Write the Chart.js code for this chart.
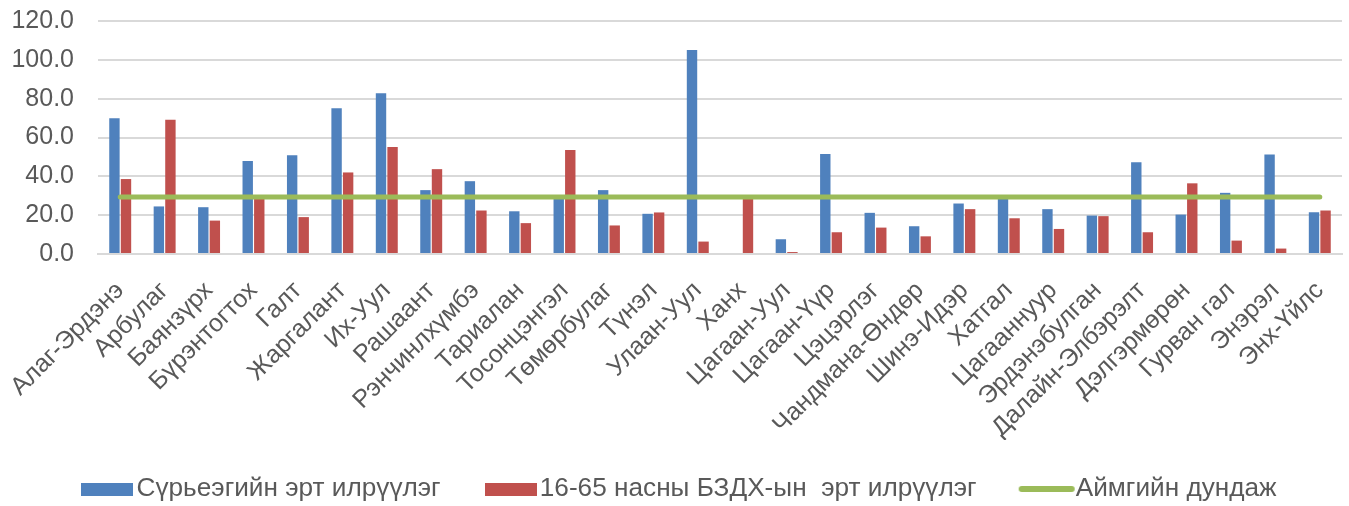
<!DOCTYPE html>
<html>
<head>
<meta charset="utf-8">
<script src="https://cdn.jsdelivr.net/npm/chart.js@4/dist/chart.umd.min.js"></script>
<style>
  html, body { margin: 0; padding: 0; background: #fff; }
  #wrap { width: 1349px; height: 506px; }
</style>
</head>
<body>
<div id="wrap"><canvas id="tbChart"></canvas></div>
<script>
// Data for the chart
const soums = ['Алаг-Эрдэнэ', 'Арбулаг', 'Баянзүрх', 'Бүрэнтогтох', 'Галт', 'Жаргалант', 'Их-Уул', 'Рашаант',
  'Рэнчинлхүмбэ', 'Тариалан', 'Тосонцэнгэл', 'Төмөрбулаг', 'Түнэл', 'Улаан-Уул', 'Ханх', 'Цагаан-Уул',
  'Цагаан-Үүр', 'Цэцэрлэг', 'Чандмана-Өндөр', 'Шинэ-Идэр', 'Хатгал', 'Цагааннуур', 'Эрдэнэбулган',
  'Далайн-Элбэрэлт', 'Дэлгэрмөрөн', 'Гурван гал', 'Энэрэл', 'Энх-Үйлс'];

const tbData = [69.9, 24.5, 24.1, 47.9, 50.8, 75.1, 82.8, 32.9, 37.5, 22.0, 29.0, 32.9, 20.7, 105.1,
  0, 7.6, 51.5, 21.2, 14.3, 26.0, 29.5, 23.1, 19.8, 47.2, 20.3, 31.5, 51.3, 21.5];
const stdData = [38.6, 69.1, 17.2, 29.0, 19.0, 42.0, 55.1, 43.7, 22.4, 15.9, 53.6, 14.7, 21.4, 6.4,
  29.0, 1.0, 11.2, 13.6, 9.1, 23.1, 18.4, 12.9, 19.5, 11.2, 36.4, 6.9, 2.8, 22.4];
const avgData = [29.4, 29.4, 29.4, 29.4, 29.4, 29.4, 29.4, 29.4, 29.4, 29.4, 29.4, 29.4, 29.4, 29.4,
  29.4, 29.4, 29.4, 29.4, 29.4, 29.4, 29.4, 29.4, 29.4, 29.4, 29.4, 29.4, 29.4, 29.4];

const yTicks = [0, 20, 40, 60, 80, 100, 120];

const FONT = "'Liberation Sans', Arial, sans-serif";
const TEXT = '#595959';
const BLUE = '#4F81BD';
const RED = '#C0504D';
const GREEN = '#9BBB59';
const LEGEND_FONT = 26.2;
const LEGEND_PAD = 54;

// Legend markers (Excel style: wide box / short thick line, text right next to it)
function rectMarker(color) {
  const c = document.createElement('canvas');
  c.width = 52; c.height = 13;
  const g = c.getContext('2d');
  g.fillStyle = color;
  g.fillRect(0, 0, 52, 13);
  return c;
}
function lineMarker(color) {
  const c = document.createElement('canvas');
  c.width = 58; c.height = 8;
  const g = c.getContext('2d');
  g.strokeStyle = color;
  g.lineWidth = 6;
  g.lineCap = 'round';
  g.beginPath();
  g.moveTo(4, 4);
  g.lineTo(54, 4);
  g.stroke();
  return c;
}
const markers = [rectMarker(BLUE), rectMarker(RED), lineMarker(GREEN)];

// put the legend row where the reference has it
const legendPlace = {
  id: 'legendPlace',
  afterLayout(chart) {
    const lg = chart.legend;
    lg.top = 489 - LEGEND_PAD - LEGEND_FONT / 2;
    lg.bottom = chart.height;
    lg.height = lg.bottom - lg.top;
    lg.left += 13;
    lg.right += 13;
  }
};

new Chart(document.getElementById('tbChart'), {
  type: 'bar',
  data: {
    labels: soums,
    datasets: [
      {
        label: 'Сүрьеэгийн эрт илрүүлэг',
        data: tbData,
        backgroundColor: BLUE,
        order: 1,
        categoryPercentage: 0.52,
        barPercentage: 0.9
      },
      {
        label: '16-65 насны БЗДХ-ын  эрт илрүүлэг',
        data: stdData,
        backgroundColor: RED,
        order: 1,
        categoryPercentage: 0.52,
        barPercentage: 0.9
      },
      {
        type: 'line',
        label: 'Аймгийн дундаж',
        data: avgData,
        borderColor: GREEN,
        backgroundColor: GREEN,
        borderWidth: 5,
        borderCapStyle: 'round',
        pointRadius: 0,
        order: 0
      }
    ]
  },
  options: {
    responsive: true,
    maintainAspectRatio: false,
    animation: false,
    layout: { padding: { left: 0, right: 7, top: 21, bottom: 0 } },
    scales: {
      x: {
        grid: { display: false },
        border: { color: '#D9D9D9', width: 2 },
        ticks: {
          color: TEXT,
          font: { family: FONT, size: 25 },
          minRotation: 45,
          maxRotation: 45,
          autoSkip: false,
          padding: 14
        },
        afterFit: (axis) => {
          axis.paddingLeft = 0;
          axis.paddingRight = 0;
          axis.height = 186;
        }
      },
      y: {
        min: 0,
        max: 120,
        afterBuildTicks: (axis) => { axis.ticks = yTicks.map(v => ({ value: v })); },
        grid: { color: '#D9D9D9', lineWidth: 2, drawTicks: false },
        border: { display: false },
        ticks: {
          color: TEXT,
          font: { family: FONT, size: 25 },
          padding: 24,
          callback: (v) => Number(v).toFixed(1)
        },
        afterFit: (axis) => {
          axis.width = 98;
          axis.paddingTop = 0;
          axis.paddingBottom = 0;
        }
      }
    },
    plugins: {
      tooltip: { enabled: false },
      legend: {
        position: 'bottom',
        maxHeight: 66,
        labels: {
          color: TEXT,
          font: { family: FONT, size: LEGEND_FONT },
          usePointStyle: true,
          pointStyleWidth: 32,
          boxHeight: 14,
          padding: LEGEND_PAD,
          sort: (a, b) => a.datasetIndex - b.datasetIndex,
          generateLabels: (chart) => {
            const items = Chart.defaults.plugins.legend.labels.generateLabels(chart);
            items.forEach(item => {
              item.pointStyle = markers[item.datasetIndex];
              item.lineWidth = 0;
            });
            return items;
          }
        }
      }
    }
  },
  plugins: [legendPlace]
});
</script>
</body>
</html>
